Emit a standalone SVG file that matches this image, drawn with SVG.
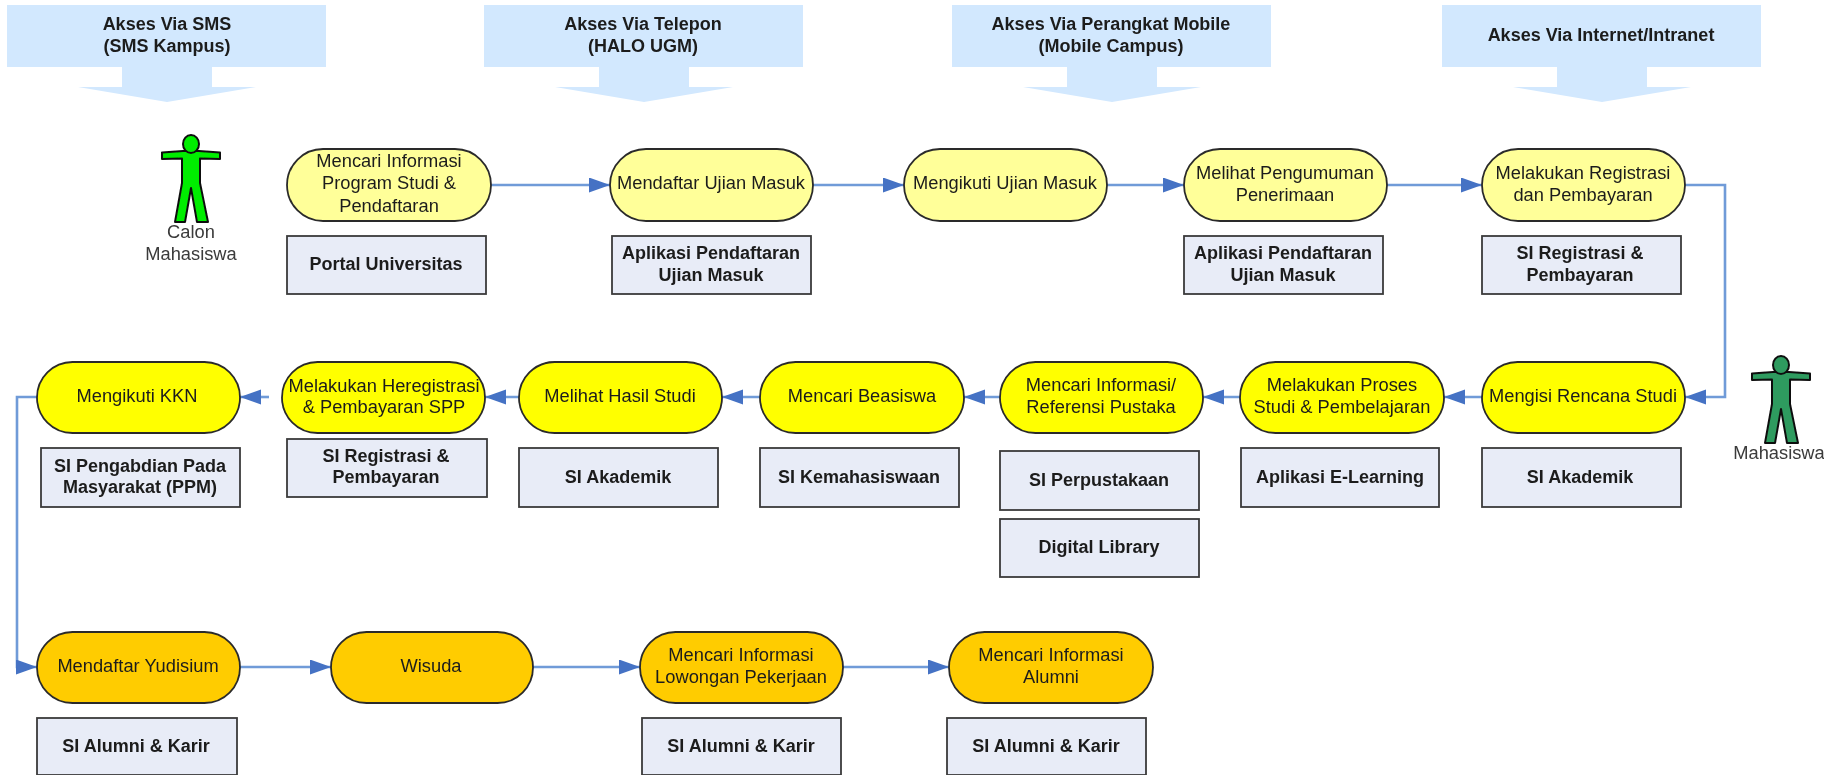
<svg xmlns="http://www.w3.org/2000/svg" xmlns:xlink="http://www.w3.org/1999/xlink" width="1824" height="776" viewBox="0 0 1824 776">
<style>
text{font-family:"Liberation Sans",Arial,sans-serif;font-size:18.3px;fill:#1c1c1c;text-anchor:middle}
.b{font-weight:bold;font-size:18px}
.h{fill:#d2e8fe;stroke:none}
.p{stroke:#2b2b2b;stroke-width:1.8}
.ly{fill:#ffff99}.yy{fill:#ffff00}.oy{fill:#ffcc00}
.r{fill:#e8ecf7;stroke:#3a3a3a;stroke-width:1.8}
.c{fill:none;stroke:#6f9bd8;stroke-width:2.6;marker-end:url(#a)}
.f{stroke:#111;stroke-width:2;stroke-linejoin:round}
.t{fill:#3a3a3a}
</style>
<defs>
<marker id="a" markerUnits="userSpaceOnUse" markerWidth="22" markerHeight="16" refX="21" refY="7.5" orient="auto"><path d="M0,0L21,7.5L0,15Z" fill="#4472c4"/></marker>
<filter id="s" x="0" y="0" width="100%" height="100%"><feGaussianBlur stdDeviation="0.55"/></filter>
<g id="fig"><path d="M-8,7L-29,8.5L-29,15L-9,14.5L-9,39L-16,78L-6,78L0,44L6,78L17,78L9,39L9,14.5L29,15L29,8.5L8,7Z"/><ellipse cx="0" cy="0" rx="8" ry="9"/></g>
<path id="hd" d="M-160,5H159V67H45V87H89L0,102L-89,87H-45V67H-160Z"/>
</defs>
<g filter="url(#s)">
<g id="connectors">
<path class="c" d="M491,185H610"/><path class="c" d="M813,185H904"/><path class="c" d="M1107,185H1184"/><path class="c" d="M1387,185H1482"/>
<path class="c" d="M1685,185H1725V397H1685"/>
<path class="c" d="M1482,397H1444"/><path class="c" d="M1240,397H1203"/><path class="c" d="M1000,397H964"/><path class="c" d="M760,397H722"/><path class="c" d="M519,397H485"/><path class="c" d="M269,397H240"/>
<path class="c" d="M37,397H17V667H37"/>
<path class="c" d="M240,667H331"/><path class="c" d="M533,667H640"/><path class="c" d="M843,667H949"/>
</g>
<g id="h1"><use href="#hd" x="167" class="h"/><text class="b" x="167" y="30">Akses Via SMS</text><text class="b" x="167" y="52">(SMS Kampus)</text></g>
<g id="h2"><use href="#hd" x="644" class="h"/><text class="b" x="643" y="30">Akses Via Telepon</text><text class="b" x="643" y="52">(HALO UGM)</text></g>
<g id="h3"><use href="#hd" x="1112" class="h"/><text class="b" x="1111" y="30">Akses Via Perangkat Mobile</text><text class="b" x="1111" y="52">(Mobile Campus)</text></g>
<g id="h4"><use href="#hd" x="1602" class="h"/><text class="b" x="1601" y="41">Akses Via Internet/Intranet</text></g>
<g id="actor1"><use href="#fig" x="191" y="144" class="f" fill="#00ee00"/><text class="t" x="191" y="238">Calon</text><text class="t" x="191" y="260">Mahasiswa</text></g>
<g id="actor2"><use href="#fig" x="1781" y="365" class="f" fill="#2e9b5f"/><text class="t" x="1779" y="459">Mahasiswa</text></g>

<g id="n1"><rect class="p ly" x="287" y="149" width="204" height="72" rx="36"/><text x="389" y="167">Mencari Informasi</text><text x="389" y="189">Program Studi &amp;</text><text x="389" y="212">Pendaftaran</text></g>
<g id="n2"><rect class="p ly" x="610" y="149" width="203" height="72" rx="36"/><text x="711" y="189">Mendaftar Ujian Masuk</text></g>
<g id="n3"><rect class="p ly" x="904" y="149" width="203" height="72" rx="36"/><text x="1005" y="189">Mengikuti Ujian Masuk</text></g>
<g id="n4"><rect class="p ly" x="1184" y="149" width="203" height="72" rx="36"/><text x="1285" y="179">Melihat Pengumuman</text><text x="1285" y="201">Penerimaan</text></g>
<g id="n5"><rect class="p ly" x="1482" y="149" width="203" height="72" rx="36"/><text x="1583" y="179">Melakukan Registrasi</text><text x="1583" y="201">dan Pembayaran</text></g>

<g id="s1"><rect class="r" x="287" y="236" width="199" height="58"/><text class="b" x="386" y="270">Portal Universitas</text></g>
<g id="s2"><rect class="r" x="612" y="236" width="199" height="58"/><text class="b" x="711" y="259">Aplikasi Pendaftaran</text><text class="b" x="711" y="281">Ujian Masuk</text></g>
<g id="s4"><rect class="r" x="1184" y="236" width="199" height="58"/><text class="b" x="1283" y="259">Aplikasi Pendaftaran</text><text class="b" x="1283" y="281">Ujian Masuk</text></g>
<g id="s5"><rect class="r" x="1482" y="236" width="199" height="58"/><text class="b" x="1580" y="259">SI Registrasi &amp;</text><text class="b" x="1580" y="281">Pembayaran</text></g>

<g id="n6"><rect class="p yy" x="1482" y="362" width="203" height="71" rx="35.5"/><text x="1583" y="402">Mengisi Rencana Studi</text></g>
<g id="n7"><rect class="p yy" x="1240" y="362" width="204" height="71" rx="35.5"/><text x="1342" y="391">Melakukan Proses</text><text x="1342" y="413">Studi &amp; Pembelajaran</text></g>
<g id="n8"><rect class="p yy" x="1000" y="362" width="203" height="71" rx="35.5"/><text x="1101" y="391">Mencari Informasi/</text><text x="1101" y="413">Referensi Pustaka</text></g>
<g id="n9"><rect class="p yy" x="760" y="362" width="204" height="71" rx="35.5"/><text x="862" y="402">Mencari Beasiswa</text></g>
<g id="n10"><rect class="p yy" x="519" y="362" width="203" height="71" rx="35.5"/><text x="620" y="402">Melihat Hasil Studi</text></g>
<g id="n11"><rect class="p yy" x="282" y="362" width="203" height="71" rx="35.5"/><text x="384" y="392">Melakukan Heregistrasi</text><text x="384" y="413">&amp; Pembayaran SPP</text></g>
<g id="n12"><rect class="p yy" x="37" y="362" width="203" height="71" rx="35.5"/><text x="137" y="402">Mengikuti KKN</text></g>

<g id="s6"><rect class="r" x="1482" y="448" width="199" height="59"/><text class="b" x="1580" y="483">SI Akademik</text></g>
<g id="s7"><rect class="r" x="1241" y="448" width="198" height="59"/><text class="b" x="1340" y="483">Aplikasi E-Learning</text></g>
<g id="s8"><rect class="r" x="1000" y="451" width="199" height="59"/><text class="b" x="1099" y="486">SI Perpustakaan</text></g>
<g id="s8b"><rect class="r" x="1000" y="519" width="199" height="58"/><text class="b" x="1099" y="553">Digital Library</text></g>
<g id="s9"><rect class="r" x="760" y="448" width="199" height="59"/><text class="b" x="859" y="483">SI Kemahasiswaan</text></g>
<g id="s10"><rect class="r" x="519" y="448" width="199" height="59"/><text class="b" x="618" y="483">SI Akademik</text></g>
<g id="s11"><rect class="r" x="287" y="439" width="200" height="58"/><text class="b" x="386" y="462">SI Registrasi &amp;</text><text class="b" x="386" y="483">Pembayaran</text></g>
<g id="s12"><rect class="r" x="41" y="448" width="199" height="59"/><text class="b" x="140" y="472">SI Pengabdian Pada</text><text class="b" x="140" y="493">Masyarakat (PPM)</text></g>

<g id="n13"><rect class="p oy" x="37" y="632" width="203" height="71" rx="35.5"/><text x="138" y="672">Mendaftar Yudisium</text></g>
<g id="n14"><rect class="p oy" x="331" y="632" width="202" height="71" rx="35.5"/><text x="431" y="672">Wisuda</text></g>
<g id="n15"><rect class="p oy" x="640" y="632" width="203" height="71" rx="35.5"/><text x="741" y="661">Mencari Informasi</text><text x="741" y="683">Lowongan Pekerjaan</text></g>
<g id="n16"><rect class="p oy" x="949" y="632" width="204" height="71" rx="35.5"/><text x="1051" y="661">Mencari Informasi</text><text x="1051" y="683">Alumni</text></g>

<g id="s13"><rect class="r" x="37" y="718" width="200" height="57"/><text class="b" x="136" y="752">SI Alumni &amp; Karir</text></g>
<g id="s15"><rect class="r" x="642" y="718" width="199" height="57"/><text class="b" x="741" y="752">SI Alumni &amp; Karir</text></g>
<g id="s16"><rect class="r" x="947" y="718" width="199" height="57"/><text class="b" x="1046" y="752">SI Alumni &amp; Karir</text></g>
</g>
</svg>
